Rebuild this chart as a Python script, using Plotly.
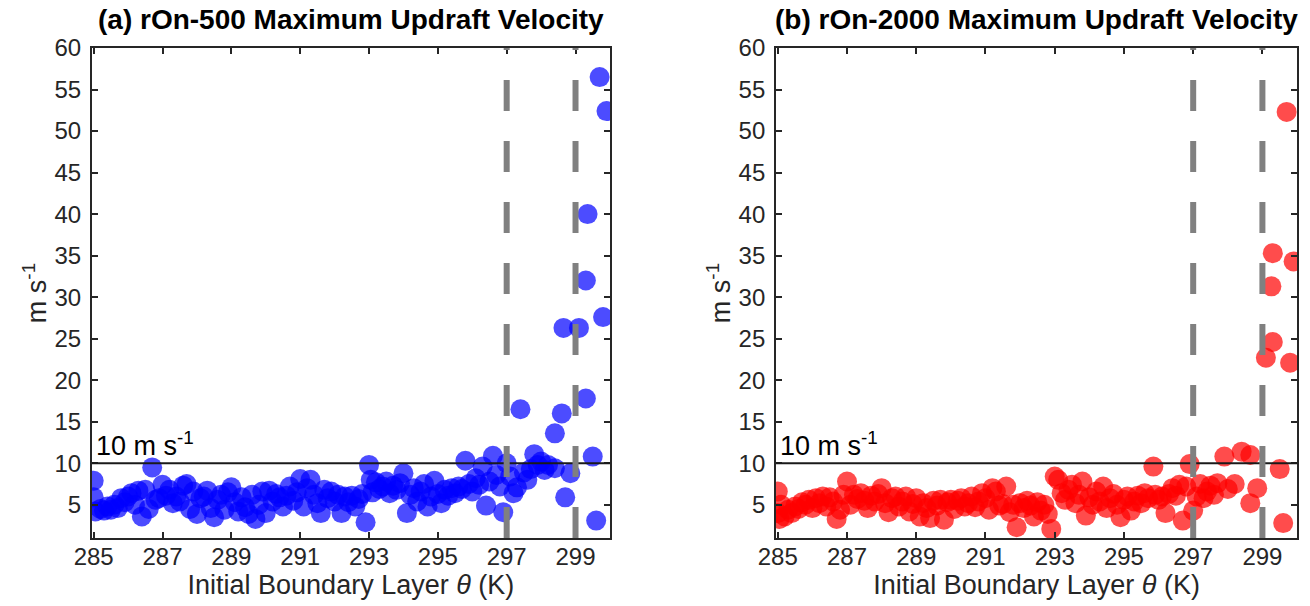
import plotly.graph_objects as go

# panel (a) rOn-500
theta_a = [285.0, 285.0, 285.05, 285.2, 285.3, 285.4, 285.5, 285.6, 285.7, 285.8,
           285.9, 286.0, 286.1, 286.2, 286.3, 286.4, 286.5, 286.6, 286.7, 286.8,
           286.9, 287.0, 287.1, 287.2, 287.3, 287.4, 287.5, 287.6, 287.7, 287.8,
           287.9, 288.0, 288.1, 288.2, 288.3, 288.4, 288.5, 288.6, 288.7, 288.8,
           288.9, 289.0, 289.1, 289.2, 289.3, 289.4, 289.5, 289.6, 289.7, 289.8,
           289.9, 290.0, 290.1, 290.2, 290.3, 290.4, 290.5, 290.6, 290.7, 290.8,
           290.9, 291.0, 291.1, 291.2, 291.3, 291.4, 291.5, 291.6, 291.7, 291.8,
           291.9, 292.0, 292.1, 292.2, 292.3, 292.4, 292.5, 292.6, 292.7, 292.8,
           292.9, 293.0, 293.05, 293.1, 293.2, 293.3, 293.4, 293.5, 293.6, 293.7,
           293.8, 293.9, 294.0, 294.1, 294.2, 294.3, 294.4, 294.5, 294.6, 294.7,
           294.8, 294.9, 295.0, 295.1, 295.2, 295.3, 295.4, 295.5, 295.6, 295.7,
           295.8, 295.9, 296.0, 296.1, 296.2, 296.3, 296.4, 296.5, 296.6, 296.7,
           296.8, 296.9, 297.0, 297.1, 297.2, 297.3, 297.4, 297.5, 297.6, 297.7,
           297.8, 297.9, 298.0, 298.1, 298.2, 298.4, 298.4, 298.6, 298.65, 298.7,
           298.85, 299.1, 299.3, 299.3, 299.35, 299.5, 299.6, 299.7, 299.8, 299.9]
w_a = [7.9, 5.9, 4.2, 4.5, 4.3, 4.8, 4.4, 5.0, 4.6, 5.8,
       5.3, 6.0, 6.4, 5.0, 6.7, 3.6, 6.8, 4.5, 9.5, 5.6,
       5.8, 7.4, 6.1, 6.8, 5.2, 6.0, 5.4, 7.3, 7.5, 4.5,
       6.6, 3.9, 5.8, 6.0, 6.7, 4.6, 3.5, 5.6, 6.2, 4.4,
       6.5, 7.1, 5.3, 4.2, 5.9, 4.7, 3.9, 6.2, 3.3, 5.0,
       6.6, 4.0, 6.7, 5.4, 6.3, 5.9, 4.8, 6.1, 7.2, 5.5,
       6.5, 8.1, 4.8, 7.0, 8.0, 6.2, 5.2, 4.0, 6.8, 5.8,
       6.6, 5.4, 6.2, 4.0, 6.0, 5.3, 6.1, 4.8, 5.7, 6.3,
       2.9, 9.8, 8.0, 6.5, 7.7, 6.9, 7.2, 7.8, 6.4, 7.3,
       6.8, 7.6, 8.8, 4.0, 6.2, 7.0, 5.4, 6.6, 7.5, 4.8,
       6.0, 7.9, 6.3, 5.2, 6.8, 6.1, 7.0, 6.4, 7.2, 6.9,
       10.3, 7.5, 6.6, 8.2, 7.4, 9.6, 4.9, 7.8, 10.9, 8.6,
       7.2, 4.1, 10.0, 8.4, 6.4, 7.1, 16.5, 8.9, 8.0, 9.3,
       11.1, 9.8, 10.2, 9.2, 9.8, 13.6, 9.4, 16.0, 26.3, 5.9,
       8.8, 26.3, 17.8, 32.0, 40.0, 10.8, 3.1, 56.5, 27.6, 52.4]

# panel (b) rOn-2000
theta_b = [285.0, 285.0, 285.05, 285.1, 285.2, 285.3, 285.4, 285.5, 285.6, 285.7,
           285.8, 285.9, 286.0, 286.1, 286.2, 286.3, 286.4, 286.5, 286.6, 286.7,
           286.8, 286.9, 287.0, 287.1, 287.2, 287.3, 287.4, 287.5, 287.6, 287.7,
           287.8, 287.9, 288.0, 288.1, 288.2, 288.3, 288.4, 288.5, 288.6, 288.7,
           288.8, 288.9, 289.0, 289.1, 289.2, 289.3, 289.4, 289.5, 289.6, 289.7,
           289.8, 289.9, 290.0, 290.1, 290.2, 290.3, 290.4, 290.5, 290.6, 290.7,
           290.8, 290.9, 291.0, 291.1, 291.2, 291.3, 291.4, 291.5, 291.6, 291.7,
           291.8, 291.9, 292.0, 292.1, 292.2, 292.3, 292.4, 292.5, 292.6, 292.7,
           292.8, 292.9, 293.0, 293.1, 293.2, 293.3, 293.4, 293.5, 293.6, 293.7,
           293.8, 293.9, 294.0, 294.1, 294.2, 294.3, 294.4, 294.5, 294.6, 294.7,
           294.8, 294.9, 295.0, 295.1, 295.2, 295.3, 295.4, 295.5, 295.6, 295.7,
           295.85, 295.9, 296.0, 296.1, 296.2, 296.3, 296.4, 296.5, 296.6, 296.7,
           296.8, 296.9, 297.0, 297.1, 297.2, 297.3, 297.4, 297.5, 297.6, 297.7,
           297.9, 298.0, 298.2, 298.4, 298.65, 298.65, 298.85, 299.1, 299.26, 299.3,
           299.3, 299.5, 299.6, 299.7, 299.8, 299.9]
w_b = [6.6, 4.0, 3.3, 5.0, 3.6, 4.4, 4.0, 4.8, 4.5, 5.3,
       5.0, 5.6, 4.6, 5.8, 5.2, 6.0, 4.8, 5.9, 5.4, 3.3,
       4.4, 6.2, 7.8, 5.0, 6.2, 5.7, 6.4, 5.5, 4.6, 6.1,
       5.4, 6.3, 7.0, 5.2, 4.1, 5.8, 6.0, 4.8, 5.4, 6.0,
       4.2, 5.1, 5.8, 3.6, 5.2, 4.6, 3.4, 5.5, 4.9, 5.6,
       3.2, 5.3, 5.6, 4.5, 5.5, 5.8, 4.8, 5.2, 6.0, 4.7,
       5.4, 6.4, 5.8, 4.4, 7.0, 6.6, 4.9, 5.1, 7.2, 4.1,
       5.0, 2.3, 5.2, 4.6, 5.5, 4.9, 3.6, 5.3, 4.3, 5.0,
       3.9, 2.1, 8.4, 8.0, 6.4, 5.6, 6.8, 7.4, 5.2, 6.2,
       7.8, 3.7, 5.9, 5.0, 6.6, 5.4, 7.2, 4.6, 5.8, 6.3,
       5.0, 3.5, 5.6, 6.0, 4.3, 5.4, 6.1, 5.2, 6.4, 5.8,
       9.6, 6.2, 5.6, 6.0, 4.0, 6.3, 7.0, 6.1, 7.4, 3.1,
       7.2, 9.9, 4.3, 6.0, 7.5, 5.8, 6.6, 7.3, 6.2, 7.6,
       10.8, 6.9, 7.5, 11.4, 11.0, 5.2, 7.0, 22.7, 31.3, 24.6,
       35.3, 9.3, 2.8, 52.3, 22.1, 34.3]

x_ticks = [285, 287, 289, 291, 293, 295, 297, 299]
y_ticks = [5, 10, 15, 20, 25, 30, 35, 40, 45, 50, 55, 60]
threshold = 10
theta_marks = [297, 299]

titles = ["(a) rOn-500 Maximum Updraft Velocity", "(b) rOn-2000 Maximum Updraft Velocity"]

font = "Liberation Sans, Arial, sans-serif"
tick_color = "#262626"

fig = go.Figure()

fig.add_trace(go.Scatter(
    x=theta_a, y=w_a, mode="markers", xaxis="x", yaxis="y",
    marker=dict(size=20, color="rgba(0,0,255,0.7)", line=dict(width=0)),
    showlegend=False
))
fig.add_trace(go.Scatter(
    x=theta_b, y=w_b, mode="markers", xaxis="x2", yaxis="y2",
    marker=dict(size=20, color="rgba(255,0,0,0.7)", line=dict(width=0)),
    showlegend=False
))

xdom = [[0.0702, 0.4656], [0.5924, 0.9901]]
ydom = [0.1122, 0.9208]

axis_common = dict(
    showline=True, linecolor="#262626", linewidth=2, mirror="ticks",
    ticks="inside", ticklen=6, tickwidth=2, tickcolor="#262626",
    showgrid=False, zeroline=False, automargin=False,
    tickfont=dict(family=font, size=24, color=tick_color),
)

layout = dict(
    width=1310, height=606,
    margin=dict(l=0, r=0, t=0, b=0),
    plot_bgcolor="white", paper_bgcolor="white",
    font=dict(family=font, color=tick_color),
)
for i, suffix in enumerate(["", "2"]):
    layout["xaxis" + suffix] = dict(
        axis_common, domain=xdom[i], range=[284.95, 300],
        tickvals=x_ticks, anchor="y" + suffix, ticklabelstandoff=-4,
        title=dict(text="Initial Boundary Layer <i>θ</i> (K)",
                   font=dict(family=font, size=27, color=tick_color), standoff=0),
    )
    layout["yaxis" + suffix] = dict(
        axis_common, domain=ydom, range=[1, 60],
        tickvals=y_ticks, anchor="x" + suffix, ticklabelstandoff=4,
        title=dict(text="m s<sup>-1</sup>",
                   font=dict(family=font, size=27, color=tick_color), standoff=0),
    )
fig.update_layout(**layout)

for i, suffix in enumerate(["", "2"]):
    xr = "x" + suffix
    yr = "y" + suffix
    # threshold line
    fig.add_shape(type="line", xref=xr + " domain", yref=yr, x0=0, x1=1,
                  y0=threshold, y1=threshold, line=dict(color="#1a1a1a", width=2))
    # dashed marks
    for t in theta_marks:
        fig.add_shape(type="line", xref=xr, yref=yr + " domain", x0=t, x1=t,
                      y0=0, y1=1, line=dict(color="#808080", width=6, dash="31px,30px"))
    fig.add_annotation(xref=xr, yref=yr, x=285.0, y=threshold, xanchor="left",
                       yanchor="bottom", yshift=0, showarrow=False,
                       text="10 m s<sup>-1</sup>",
                       font=dict(family=font, size=27, color="black"))
    fig.add_annotation(xref="paper", yref="paper",
                       x=(xdom[i][0] + xdom[i][1]) / 2, y=0.968,
                       xanchor="center", yanchor="middle", showarrow=False,
                       text="<b>" + titles[i] + "</b>",
                       font=dict(family=font, size=28, color="black"))

fig.write_html("out.html", config={"displayModeBar": False},
               post_script="document.body.style.margin='0';")
